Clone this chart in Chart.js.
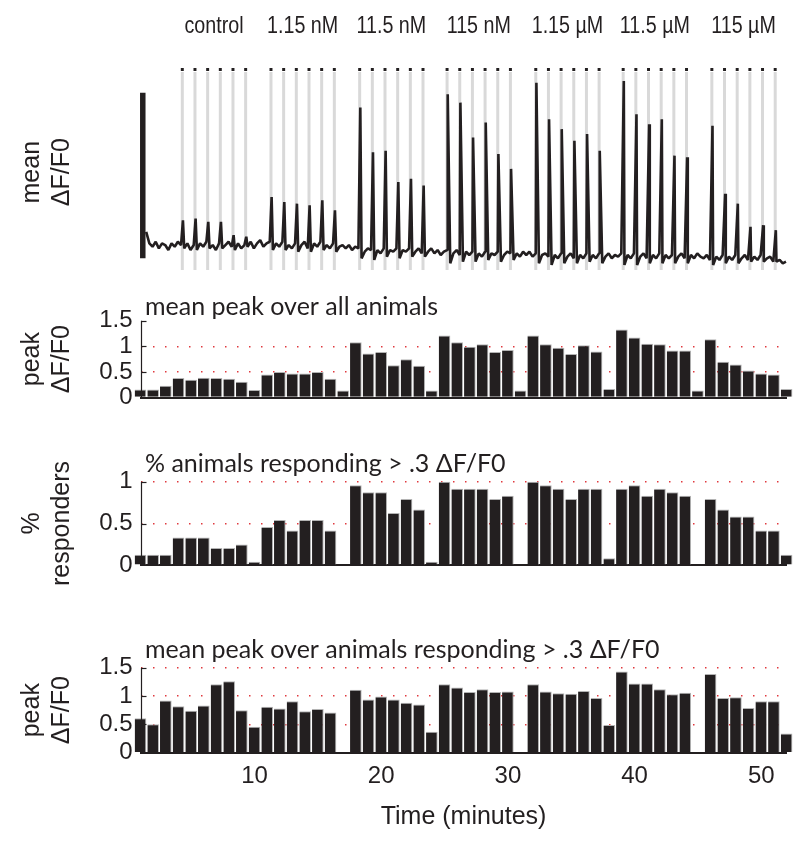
<!DOCTYPE html>
<html>
<head>
<meta charset="utf-8">
<script src="https://cdn.jsdelivr.net/npm/chart.js@4/dist/chart.umd.min.js"></script>
<style>
  body { margin: 0; background: #fff; }
  #wrap { position: relative; width: 801px; height: 846px; }
  canvas { position: absolute; left: 0; }
</style>
</head>
<body>
<div id="wrap">
  <canvas id="trace" width="801" height="290" style="top:0"></canvas>
  <canvas id="peakAll" width="801" height="130" style="top:290px"></canvas>
  <canvas id="responders" width="801" height="164" style="top:436px"></canvas>
  <canvas id="peakResp" width="801" height="226" style="top:620px"></canvas>
</div>
<script>
// ---- data ----
const concLabels = ['control', '1.15 nM', '11.5 nM', '115 nM', '1.15 µM', '11.5 µM', '115 µM'];

// stimulus onsets (minutes), 6 per concentration
const stimTimes = [
  4.3, 5.3, 6.3, 7.3, 8.3, 9.3,
  11.3, 12.3, 13.3, 14.3, 15.3, 16.3,
  18.3, 19.3, 20.3, 21.3, 22.3, 23.3,
  25.2, 26.2, 27.2, 28.2, 29.2, 30.2,
  32.2, 33.2, 34.2, 35.2, 36.2, 37.2,
  39.1, 40.1, 41.1, 42.1, 43.1, 44.1,
  46.1, 47.1, 48.1, 49.1, 50.1, 51.1
];
// peak of the mean trace at each stimulus (scale bar = 1)
const peakHeights = [
  0.23, 0.24, 0.22, 0.22, 0.14, 0.13,
  0.37, 0.34, 0.33, 0.32, 0.35, 0.29,
  0.91, 0.64, 0.65, 0.46, 0.48, 0.44,
  0.99, 0.94, 0.73, 0.82, 0.63, 0.54,
  1.06, 0.84, 0.78, 0.71, 0.75, 0.65,
  1.07, 0.87, 0.81, 0.84, 0.62, 0.61,
  0.80, 0.39, 0.33, 0.19, 0.20, 0.17
];
// baseline of the trace, sampled every 0.25 min from 1.45 min
const traceStart = 1.45;
const traceStep = 0.25;
const traceBase = [
  0.16, 0.09, 0.07, 0.10, 0.06, 0.09, 0.08, 0.05,
  0.09, 0.07, 0.10, 0.08, 0.06, 0.09, 0.05, 0.08,
  0.05, 0.09, 0.07, 0.10, 0.06, 0.08, 0.05, 0.09,
  0.06, 0.08, 0.10, 0.07, 0.05, 0.09, 0.06, 0.08,
  0.07, 0.10, 0.06, 0.09, 0.11, 0.07, 0.09, 0.10,
  0.05, 0.09, 0.07, 0.10, 0.05, 0.08, 0.06, 0.09,
  0.04, 0.08, 0.10, 0.06, 0.04, 0.09, 0.07, 0.10,
  0.05, 0.08, 0.06, 0.09, 0.04, 0.07, 0.08, 0.06,
  0.08, 0.05, 0.07, 0.06, 0.00, 0.04, 0.06, 0.05,
  -0.01, 0.05, 0.03, 0.06, 0.01, 0.05, 0.04, 0.06,
  0.00, 0.05, 0.04, 0.06, 0.01, 0.04, 0.06, 0.03,
  0.01, 0.04, 0.06, 0.03, 0.05, 0.02, 0.04, 0.05,
  -0.03, 0.03, 0.05, 0.02, -0.02, 0.04, 0.02, 0.04,
  -0.02, 0.03, 0.01, 0.04, -0.01, 0.03, 0.02, 0.04,
  -0.02, 0.02, 0.04, 0.03, -0.01, 0.03, 0.01, 0.04,
  0.02, 0.04, 0.01, 0.03, -0.03, 0.02, 0.03, 0.01,
  -0.04, 0.02, 0.00, 0.03, -0.03, 0.01, 0.03, 0.00,
  -0.03, 0.02, 0.00, 0.03, -0.02, 0.02, 0.00, 0.03,
  -0.03, 0.01, 0.03, 0.00, 0.02, 0.01, 0.03, -0.04,
  0.02, 0.00, 0.03, -0.04, 0.01, 0.03, 0.00, -0.03,
  0.02, 0.00, 0.03, -0.03, 0.02, 0.00, 0.02, -0.03,
  0.01, 0.03, 0.00, -0.03, 0.02, 0.00, 0.03, 0.01,
  0.00, 0.02, -0.01, -0.04, 0.01, -0.01, 0.02, -0.03,
  0.01, -0.01, 0.02, -0.03, 0.00, 0.02, -0.01, -0.02,
  0.01, -0.01, 0.02, -0.02, 0.00, 0.01, -0.02, -0.02,
  -0.01, -0.03, -0.02
];

// bar panels: one bar per minute
const minutes = [
  1, 2, 3, 4, 5, 6, 7, 8, 9, 10, 11, 12, 13, 14, 15, 16, 17, 18, 19, 20, 21, 22, 23, 24, 25, 26,
  27, 28, 29, 30, 31, 32, 33, 34, 35, 36, 37, 38, 39, 40, 41, 42, 43, 44, 45, 46, 47, 48, 49, 50, 51, 52
];
const meanPeakAll = [
  0.16, 0.16, 0.23, 0.38, 0.35, 0.385, 0.38, 0.37, 0.31, 0.15,
  0.45, 0.50, 0.47, 0.47, 0.50, 0.37, 0.14,
  1.08, 0.86, 0.89, 0.63, 0.75, 0.62, 0.14,
  1.21, 1.08, 0.99, 1.04, 0.89, 0.93, 0.14,
  1.21, 1.04, 0.97, 0.85, 1.02, 0.90, 0.17,
  1.33, 1.17, 1.05, 1.04, 0.92, 0.92, 0.14,
  1.14, 0.70, 0.645, 0.53, 0.47, 0.45, 0.17
];
const fracResponding = [
  0.125, 0.125, 0.125, 0.333, 0.333, 0.333, 0.208, 0.208, 0.25, 0.042,
  0.458, 0.542, 0.417, 0.542, 0.542, 0.417, 0,
  0.958, 0.875, 0.875, 0.625, 0.792, 0.667, 0.042,
  1, 0.917, 0.917, 0.917, 0.792, 0.833, 0,
  1, 0.958, 0.917, 0.792, 0.917, 0.917, 0.083,
  0.917, 0.958, 0.833, 0.917, 0.875, 0.833, 0,
  0.792, 0.667, 0.583, 0.583, 0.417, 0.417, 0.125
];
const meanPeakResponders = [
  0.61, 0.50, 0.92, 0.82, 0.74, 0.835, 1.21, 1.26, 0.75, 0.46,
  0.81, 0.78, 0.91, 0.73, 0.77, 0.71, null,
  1.11, 0.94, 0.99, 0.94, 0.88, 0.85, 0.37,
  1.21, 1.15, 1.07, 1.12, 1.07, 1.08, null,
  1.21, 1.08, 1.05, 1.04, 1.09, 0.965, 0.49,
  1.435, 1.22, 1.22, 1.12, 1.03, 1.06, null,
  1.39, 0.965, 0.98, 0.79, 0.91, 0.91, 0.34
];
const timeTicks = [10, 20, 30, 40, 50];

// ---- styling ----
const INK = '#231f20';
const RED = '#e0393e';
const SANS = '"Liberation Sans", Arial, sans-serif';
const TITLE_FONT = 'Lato, "Open Sans", sans-serif';
const AXIS_LEFT = 140.5;
const PAD_RIGHT = 14.4;

Chart.defaults.font.family = SANS;
Chart.defaults.color = INK;

function yTitle(lines) {
  return { display: true, text: lines, color: INK, font: { size: 25 }, padding: { top: 17.6, bottom: 0 } };
}

const panelTitle = {
  id: 'panelTitle',
  afterDraw(chart, args, opts) {
    const { ctx, chartArea } = chart;
    ctx.save();
    ctx.font = '25px ' + TITLE_FONT;
    ctx.fillStyle = INK;
    ctx.textAlign = 'left';
    ctx.textBaseline = 'alphabetic';
    ctx.fillText(opts.text, chartArea.left + 4.5, chartArea.top - opts.gap);
    ctx.restore();
  }
};

// left axis line with short ticks pointing into the plot
const innerTicks = {
  id: 'innerTicks',
  afterDraw(chart) {
    const ys = chart.scales.y, ctx = chart.ctx, left = chart.chartArea.left;
    const x = Math.round(left) + 0.5;
    ctx.save();
    ctx.strokeStyle = INK;
    ctx.lineWidth = 1.2;
    ctx.beginPath();
    ctx.moveTo(x, ys.getPixelForValue(ys.max));
    ctx.lineTo(x, ys.getPixelForValue(0));
    ctx.stroke();
    ys.ticks.forEach(t => {
      if (t.value === 0) return;
      const y = Math.round(ys.getPixelForValue(t.value)) + 0.5;
      ctx.beginPath();
      ctx.moveTo(x, y);
      ctx.lineTo(x + 5, y);
      ctx.stroke();
    });
    ctx.restore();
  }
};

const concPlugin = {
  id: 'concLabels',
  afterDraw(chart) {
    const ctx = chart.ctx, xs = chart.scales.x;
    ctx.save();
    ctx.font = '24px "Liberation Sans", Arial, sans-serif';
    ctx.fillStyle = INK;
    ctx.textAlign = 'center';
    ctx.textBaseline = 'alphabetic';
    concLabels.forEach((lab, g) => {
      const grp = stimTimes.slice(g * 6, g * 6 + 6);
      const cx = xs.getPixelForValue((grp[0] + grp[5]) / 2);
      ctx.save();
      ctx.translate(cx, 33);
      ctx.scale(0.82, 1);
      ctx.fillText(lab, 0, 0);
      ctx.restore();
    });
    ctx.restore();
  }
};

// ---- top panel: mean trace ----
const tracePts = traceBase.map((v, i) => ({ x: traceStart + i * traceStep, y: v }));
stimTimes.forEach((t, i) => tracePts.push({ x: t + 0.05, y: peakHeights[i] }));
tracePts.sort((a, b) => a.x - b.x);

const stimLines = [];
stimTimes.forEach(t => {
  stimLines.push({ x: t, y: 1.125 }, { x: t, y: -0.07 }, { x: t, y: null });
});
const stimMarks = stimTimes.map(t => ({ x: t, y: 1.14 }));
const scaleBar = [{ x: 1.18, y: 0 }, { x: 1.18, y: 1 }];

new Chart(document.getElementById('trace'), {
  type: 'line',
  data: {
    datasets: [
      { data: tracePts, borderColor: INK, borderWidth: 2.6, borderJoinStyle: 'bevel', pointRadius: 0, order: 0, clip: false },
      { data: scaleBar, borderColor: INK, borderWidth: 5.5, borderCapStyle: 'butt', pointRadius: 0, order: 1, clip: false },
      { data: stimMarks, showLine: false, pointStyle: 'rect', pointRadius: 2.1, backgroundColor: INK, borderWidth: 0, order: 2 },
      { data: stimLines, borderColor: '#d9d9d9', borderWidth: 3, pointRadius: 0, spanGaps: false, order: 3 }
    ]
  },
  options: {
    responsive: false,
    animation: false,
    layout: { padding: { left: 0, right: PAD_RIGHT, top: 62.9, bottom: 8.5 } },
    plugins: { legend: { display: false }, tooltip: { enabled: false } },
    scales: {
      x: { type: 'linear', min: 1, max: 52, offset: false, display: false },
      y: {
        min: -0.14, max: 1.18,
        afterFit: s => { s.width = AXIS_LEFT; },
        grid: { display: false },
        border: { display: false },
        ticks: { display: false },
        title: yTitle(['mean', 'ΔF/F0'])
      }
    }
  },
  plugins: [concPlugin]
});

// ---- bar panels ----
function barPanel(id, values, opt) {
  const canvas = document.getElementById(id);
  const H = canvas.height;
  const showX = !!opt.xTicks;
  return new Chart(canvas, {
    type: 'bar',
    data: {
      datasets: [{
        data: minutes.map((m, i) => ({ x: m, y: values[i] })),
        backgroundColor: INK,
        borderColor: '#b3b3b3',
        borderWidth: { top: 1, right: 1, left: 0, bottom: 0 },
        barPercentage: 0.92,
        categoryPercentage: 1,
        clip: false
      }]
    },
    options: {
      responsive: false,
      animation: false,
      layout: { padding: { left: 0, right: PAD_RIGHT, top: opt.top, bottom: H - opt.top - opt.height - opt.xh } },
      plugins: {
        legend: { display: false },
        tooltip: { enabled: false },
        panelTitle: { text: opt.title, gap: opt.gap }
      },
      scales: {
        x: {
          type: 'linear', min: 1, max: 52, offset: false, z: 1,
          afterFit: s => { s.height = opt.xh; },
          afterBuildTicks: s => { s.ticks = (opt.xTicks || []).map(v => ({ value: v })); },
          grid: { display: false, drawTicks: false, offset: false },
          border: { display: true, color: INK, width: 2 },
          ticks: { display: showX, autoSkip: false, maxRotation: 0, padding: 9, font: { size: 24 }, color: INK },
          title: { display: showX, text: 'Time (minutes)', color: INK, font: { size: 25 }, padding: { top: 0, bottom: 5.7 } }
        },
        y: {
          min: 0, max: opt.yMax, z: 1,
          afterFit: s => { s.width = AXIS_LEFT; },
          afterBuildTicks: s => { s.ticks = opt.yTicks.map(v => ({ value: v })); },
          ticks: { autoSkip: false, padding: 8, font: { size: 24 }, color: INK, callback: v => String(v) },
          grid: {
            drawTicks: false,
            lineWidth: 1.5,
            color: c => (c.tick && opt.gridVals.includes(c.tick.value)) ? RED : 'rgba(0,0,0,0)'
          },
          border: { display: false, dash: [1.5, 10.5] },
          title: yTitle(opt.yLabel)
        }
      }
    },
    plugins: [panelTitle, innerTicks]
  });
}

barPanel('peakAll', meanPeakAll, {
  top: 30.7, height: 84.3, xh: 6, gap: 5.7, yMax: 1.5,
  yTicks: [0, 0.5, 1, 1.5], gridVals: [0.5, 1],
  yLabel: ['peak', 'ΔF/F0'], title: 'mean peak over all animals'
});
barPanel('responders', fracResponding, {
  top: 45.7, height: 83.6, xh: 6, gap: 10, yMax: 1,
  yTicks: [0, 0.5, 1], gridVals: [0.5, 1],
  yLabel: ['%', 'responders'], title: '% animals responding > .3 ΔF/F0'
});
barPanel('peakResp', meanPeakResponders, {
  top: 47.7, height: 85, xh: 85, gap: 10, yMax: 1.5,
  yTicks: [0, 0.5, 1, 1.5], gridVals: [0.5, 1, 1.5],
  yLabel: ['peak', 'ΔF/F0'], title: 'mean peak over animals responding > .3 ΔF/F0',
  xTicks: timeTicks
});
</script>
</body>
</html>
